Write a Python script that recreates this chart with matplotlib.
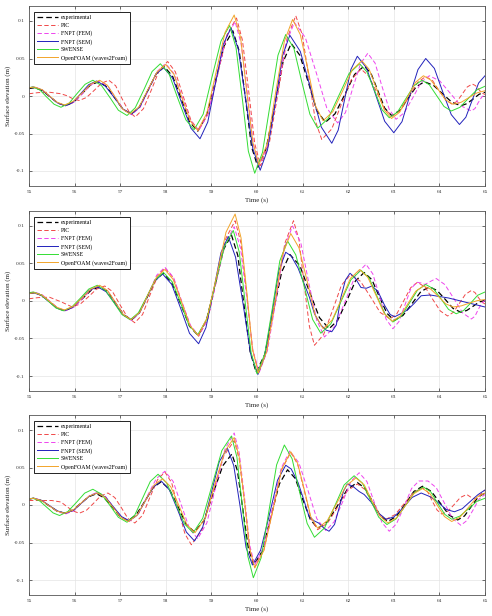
import matplotlib
matplotlib.use("Agg")
import matplotlib.pyplot as plt

plt.rcParams['font.family'] = ['Liberation Serif', 'DejaVu Serif']
plt.rcParams['axes.unicode_minus'] = False

series_names = ['experimental', 'PIC', 'FNPT (FEM)', 'FNPT (SEM)', 'SWENSE', 'OpenFOAM (waves2Foam)']
x_ticks = [55, 56, 57, 58, 59, 60, 61, 62, 63, 64, 65]
y_ticks = [-0.1, -0.05, 0, 0.05, 0.1]
y_tick_labels = ['-0.1', '-0.05', '0', '0.05', '0.1']

# ---------------- Panel 1 ----------------
p1_exp = [(55.0,0.010),(55.12,0.011),(55.29,0.0074),(55.46,-0.001),(55.63,-0.0094),(55.8,-0.013),(55.98,-0.0082),(56.16,0.003),(56.34,0.0142),(56.52,0.019),(56.70,0.0126),(56.88,-0.0025),(57.06,-0.0176),(57.24,-0.024),(57.42,-0.0146),(57.61,0.0075),(57.79,0.0296),(57.97,0.039),(58.15,0.0261),(58.34,-0.004),(58.52,-0.0341),(58.7,-0.047),(58.89,-0.0269),(59.09,0.020),(59.28,0.0669),(59.47,0.087),(59.61,0.0597),(59.75,-0.004),(59.88,-0.0677),(60.02,-0.095),(60.20,-0.0703),(60.39,-0.0125),(60.57,0.0453),(60.75,0.070),(60.94,0.0543),(61.13,0.0175),(61.31,-0.0193),(61.5,-0.035),(61.71,-0.0238),(61.93,0.0025),(62.14,0.0288),(62.35,0.040),(62.5,0.0301),(62.65,0.007),(62.8,-0.0161),(62.95,-0.026),(63.13,-0.0193),(63.31,-0.0035),(63.49,0.0123),(63.67,0.019),(63.87,0.0142),(64.07,0.003),(64.27,-0.0082),(64.47,-0.013),(64.6,-0.0103),(64.74,-0.004),(64.87,0.0023),(65.0,0.005)]
p1_pic = [(55.0,0.003),(55.2,0.0045),(55.45,0.005),(55.7,0.003),(55.85,0.0),(55.97,-0.004),(56.1,-0.006),(56.26,-0.0020),(56.43,0.0075),(56.59,0.0170),(56.75,0.021),(56.90,0.0137),(57.04,-0.0035),(57.19,-0.0207),(57.33,-0.028),(57.51,-0.0169),(57.69,0.009),(57.86,0.0349),(58.04,0.046),(58.21,0.0322),(58.38,0.0),(58.55,-0.0322),(58.72,-0.046),(58.93,-0.0235),(59.14,0.029),(59.34,0.0815),(59.55,0.104),(59.68,0.0745),(59.82,0.0055),(59.95,-0.0635),(60.08,-0.093),(60.27,-0.0630),(60.47,0.007),(60.66,0.0770),(60.85,0.107),(60.99,0.0823),(61.14,0.0245),(61.28,-0.0333),(61.42,-0.058),(61.64,-0.0439),(61.85,-0.011),(62.07,0.0219),(62.28,0.036),(62.45,0.0266),(62.63,0.0045),(62.80,-0.0176),(62.97,-0.027),(63.15,-0.0191),(63.34,-0.0005),(63.52,0.0181),(63.7,0.026),(63.85,0.0205),(63.99,0.0075),(64.14,-0.0055),(64.28,-0.011),(64.39,-0.0070),(64.5,0.0025),(64.61,0.0120),(64.72,0.016),(64.79,0.0139),(64.86,0.009),(64.93,0.0041),(65.0,0.002)]
p1_fem = [(55.0,0.011),(55.12,0.012),(55.29,0.0083),(55.46,-0.0005),(55.63,-0.0093),(55.8,-0.013),(55.99,-0.0081),(56.18,0.0035),(56.36,0.0151),(56.55,0.020),(56.73,0.0133),(56.9,-0.0025),(57.08,-0.0183),(57.25,-0.025),(57.44,-0.0148),(57.63,0.009),(57.81,0.0328),(58.0,0.043),(58.18,0.0297),(58.36,-0.0015),(58.54,-0.0327),(58.72,-0.046),(58.92,-0.0243),(59.12,0.0265),(59.32,0.0773),(59.52,0.099),(59.65,0.0702),(59.79,0.003),(59.92,-0.0642),(60.05,-0.093),(60.24,-0.0644),(60.44,0.0025),(60.63,0.0694),(60.82,0.098),(61.06,0.0779),(61.3,0.031),(61.53,-0.0159),(61.77,-0.036),(61.94,-0.0221),(62.1,0.0105),(62.27,0.0431),(62.43,0.057),(62.59,0.0438),(62.74,0.013),(62.9,-0.0178),(63.05,-0.031),(63.23,-0.0223),(63.42,-0.002),(63.6,0.0183),(63.78,0.027),(64.01,0.0200),(64.24,0.0035),(64.47,-0.0130),(64.7,-0.020),(64.78,-0.0167),(64.85,-0.009),(64.93,-0.0013),(65.0,0.002)]
p1_sem = [(55.0,0.011),(55.1,0.012),(55.28,0.0083),(55.45,-0.0005),(55.63,-0.0093),(55.8,-0.013),(55.97,-0.0081),(56.14,0.0035),(56.31,0.0151),(56.48,0.020),(56.67,0.0134),(56.87,-0.002),(57.06,-0.0174),(57.25,-0.024),(57.43,-0.0147),(57.60,0.007),(57.78,0.0287),(57.95,0.038),(58.15,0.0238),(58.35,-0.0095),(58.55,-0.0428),(58.75,-0.057),(58.92,-0.0348),(59.09,0.017),(59.26,0.0688),(59.43,0.091),(59.59,0.0625),(59.75,-0.004),(59.91,-0.0705),(60.07,-0.099),(60.23,-0.0720),(60.40,-0.009),(60.56,0.0540),(60.72,0.081),(60.95,0.0594),(61.18,0.009),(61.41,-0.0414),(61.64,-0.063),(61.78,-0.0456),(61.92,-0.005),(62.06,0.0356),(62.2,0.053),(62.4,0.0377),(62.6,0.002),(62.8,-0.0337),(63.0,-0.049),(63.18,-0.0342),(63.35,0.0005),(63.53,0.0352),(63.7,0.050),(63.89,0.0368),(64.07,0.006),(64.26,-0.0248),(64.44,-0.038),(64.58,-0.0283),(64.72,-0.0055),(64.86,0.0173),(65.0,0.027)]
p1_swense = [(55.0,0.011),(55.08,0.012),(55.24,0.0080),(55.39,-0.0015),(55.55,-0.0110),(55.7,-0.015),(55.88,-0.0096),(56.05,0.003),(56.23,0.0156),(56.4,0.021),(56.59,0.0140),(56.78,-0.0025),(56.96,-0.0190),(57.15,-0.026),(57.33,-0.0157),(57.52,0.0085),(57.70,0.0327),(57.88,0.043),(58.07,0.0298),(58.25,-0.001),(58.44,-0.0318),(58.62,-0.045),(58.82,-0.0242),(59.01,0.0245),(59.21,0.0732),(59.4,0.094),(59.54,0.0645),(59.68,-0.0045),(59.81,-0.0735),(59.95,-0.103),(60.12,-0.0753),(60.29,-0.0105),(60.46,0.0543),(60.63,0.082),(60.81,0.0633),(60.98,0.0195),(61.16,-0.0243),(61.33,-0.043),(61.56,-0.0301),(61.79,0.0),(62.02,0.0301),(62.25,0.043),(62.41,0.0322),(62.58,0.007),(62.74,-0.0182),(62.9,-0.029),(63.08,-0.0215),(63.26,-0.004),(63.44,0.0135),(63.62,0.021),(63.78,0.0149),(63.94,0.0005),(64.10,-0.0139),(64.26,-0.020),(64.45,-0.0151),(64.63,-0.0035),(64.82,0.0081),(65.0,0.013)]
p1_of = [(55.0,0.011),(55.12,0.012),(55.29,0.0084),(55.45,0.0),(55.62,-0.0084),(55.78,-0.012),(55.97,-0.0071),(56.17,0.0045),(56.36,0.0161),(56.55,0.021),(56.72,0.0143),(56.89,-0.0015),(57.05,-0.0173),(57.22,-0.024),(57.42,-0.0141),(57.61,0.009),(57.81,0.0321),(58.0,0.042),(58.18,0.0288),(58.35,-0.002),(58.53,-0.0328),(58.7,-0.046),(58.9,-0.0229),(59.1,0.031),(59.3,0.0849),(59.5,0.108),(59.64,0.0780),(59.77,0.008),(59.91,-0.0620),(60.04,-0.092),(60.23,-0.0629),(60.41,0.005),(60.6,0.0729),(60.78,0.102),(60.95,0.0818),(61.12,0.0345),(61.28,-0.0128),(61.45,-0.033),(61.66,-0.0210),(61.88,0.007),(62.09,0.0350),(62.3,0.047),(62.46,0.0355),(62.63,0.0085),(62.79,-0.0185),(62.95,-0.030),(63.13,-0.0215),(63.3,-0.0015),(63.48,0.0185),(63.65,0.027),(63.81,0.0213),(63.98,0.008),(64.14,-0.0053),(64.3,-0.011),(64.48,-0.0083),(64.65,-0.002),(64.83,0.0043),(65.0,0.007)]

# ---------------- Panel 2 ----------------
p2_exp = [(55.0,0.010),(55.12,0.011),(55.29,0.0074),(55.45,-0.001),(55.62,-0.0094),(55.78,-0.013),(55.97,-0.0082),(56.17,0.003),(56.36,0.0142),(56.55,0.019),(56.73,0.0124),(56.9,-0.003),(57.08,-0.0184),(57.25,-0.025),(57.42,-0.0157),(57.6,0.006),(57.77,0.0277),(57.94,0.037),(58.13,0.0246),(58.33,-0.0045),(58.52,-0.0336),(58.71,-0.046),(58.89,-0.0259),(59.08,0.021),(59.26,0.0679),(59.44,0.088),(59.58,0.0606),(59.71,-0.0035),(59.85,-0.0676),(59.98,-0.095),(60.17,-0.0715),(60.35,-0.0165),(60.54,0.0385),(60.72,0.062),(60.94,0.0472),(61.15,0.0125),(61.37,-0.0222),(61.58,-0.037),(61.77,-0.0258),(61.97,0.0005),(62.16,0.0268),(62.35,0.038),(62.52,0.0284),(62.68,0.006),(62.85,-0.0164),(63.01,-0.026),(63.2,-0.0193),(63.4,-0.0035),(63.59,0.0123),(63.78,0.019),(63.95,0.0139),(64.13,0.002),(64.3,-0.0099),(64.47,-0.015),(64.6,-0.0126),(64.74,-0.007),(64.87,-0.0014),(65.0,0.001)]
p2_pic = [(55.0,0.003),(55.2,0.0045),(55.45,0.005),(55.7,-0.001),(55.95,-0.008),(56.13,-0.0038),(56.31,0.006),(56.48,0.0158),(56.66,0.020),(56.83,0.0127),(56.99,-0.0045),(57.16,-0.0217),(57.32,-0.029),(57.49,-0.0181),(57.65,0.0075),(57.82,0.0331),(57.98,0.044),(58.17,0.0304),(58.35,-0.0015),(58.54,-0.0334),(58.72,-0.047),(58.92,-0.0239),(59.12,0.030),(59.32,0.0839),(59.52,0.107),(59.65,0.0769),(59.78,0.0065),(59.9,-0.0639),(60.03,-0.094),(60.22,-0.0639),(60.42,0.0065),(60.61,0.0769),(60.8,0.107),(60.92,0.0821),(61.03,0.024),(61.15,-0.0341),(61.26,-0.059),(61.46,-0.0449),(61.66,-0.012),(61.85,0.0209),(62.05,0.035),(62.27,0.0262),(62.49,0.0055),(62.7,-0.0152),(62.92,-0.024),(63.07,-0.0167),(63.22,0.0005),(63.37,0.0177),(63.52,0.025),(63.69,0.0183),(63.85,0.0025),(64.02,-0.0133),(64.18,-0.020),(64.31,-0.0149),(64.44,-0.003),(64.57,0.0089),(64.7,0.014),(64.78,0.0113),(64.85,0.005),(64.93,-0.0013),(65.0,-0.004)]
p2_fem = [(55.0,0.011),(55.12,0.012),(55.29,0.0083),(55.46,-0.0005),(55.63,-0.0093),(55.8,-0.013),(55.99,-0.0081),(56.18,0.0035),(56.36,0.0151),(56.55,0.020),(56.73,0.0131),(56.9,-0.003),(57.08,-0.0191),(57.25,-0.026),(57.43,-0.0154),(57.62,0.0095),(57.8,0.0344),(57.98,0.045),(58.17,0.0314),(58.35,-0.0005),(58.54,-0.0324),(58.72,-0.046),(58.92,-0.0243),(59.11,0.0265),(59.31,0.0773),(59.5,0.099),(59.64,0.0699),(59.78,0.002),(59.91,-0.0659),(60.05,-0.095),(60.23,-0.0658),(60.42,0.0025),(60.6,0.0708),(60.78,0.100),(60.96,0.0778),(61.13,0.026),(61.31,-0.0258),(61.48,-0.048),(61.71,-0.0335),(61.94,0.0005),(62.16,0.0345),(62.39,0.049),(62.54,0.0361),(62.69,0.006),(62.83,-0.0241),(62.98,-0.037),(63.11,-0.0277),(63.24,-0.006),(63.37,0.0157),(63.5,0.025),(63.6,0.024),(63.68,0.022),(63.8,0.026),(63.93,0.030),(64.12,0.0219),(64.32,0.003),(64.51,-0.0159),(64.7,-0.024),(64.78,-0.0203),(64.85,-0.0115),(64.93,-0.0028),(65.0,0.001)]
p2_sem = [(55.0,0.010),(55.1,0.011),(55.27,0.0074),(55.44,-0.001),(55.61,-0.0094),(55.78,-0.013),(55.96,-0.0082),(56.14,0.003),(56.32,0.0142),(56.5,0.019),(56.69,0.0124),(56.88,-0.003),(57.06,-0.0184),(57.25,-0.025),(57.42,-0.0159),(57.59,0.0055),(57.76,0.0269),(57.93,0.036),(58.13,0.0221),(58.33,-0.0105),(58.52,-0.0431),(58.72,-0.057),(58.88,-0.0356),(59.05,0.0145),(59.21,0.0646),(59.37,0.086),(59.53,0.0584),(59.7,-0.006),(59.86,-0.0704),(60.02,-0.098),(60.17,-0.0736),(60.33,-0.0165),(60.48,0.0406),(60.63,0.065),(60.75,0.060),(60.9,0.044),(61.04,0.022),(61.15,0.005),(61.26,-0.017),(61.4,-0.032),(61.52,-0.039),(61.64,-0.041),(61.74,-0.032),(61.84,0.005),(61.94,0.028),(62.04,0.037),(62.15,0.031),(62.28,0.018),(62.4,0.017),(62.52,0.020),(62.65,0.013),(62.8,-0.006),(62.92,-0.018),(63.02,-0.021),(63.15,-0.017),(63.3,-0.012),(63.45,-0.003),(63.6,0.007),(63.8,0.008),(64.0,0.006),(64.2,0.004),(64.4,0.001),(64.6,-0.002),(64.8,-0.005),(65.0,-0.008)]
p2_swense = [(55.0,0.011),(55.1,0.012),(55.26,0.0083),(55.43,-0.0005),(55.59,-0.0093),(55.75,-0.013),(55.94,-0.0079),(56.13,0.004),(56.31,0.0159),(56.5,0.021),(56.68,0.0141),(56.86,-0.002),(57.04,-0.0181),(57.22,-0.025),(57.4,-0.0156),(57.59,0.0065),(57.77,0.0286),(57.95,0.038),(58.14,0.0256),(58.33,-0.0035),(58.51,-0.0326),(58.7,-0.045),(58.9,-0.0242),(59.09,0.0245),(59.29,0.0732),(59.48,0.094),(59.61,0.0654),(59.74,-0.0015),(59.87,-0.0684),(60.0,-0.097),(60.17,-0.0705),(60.34,-0.0085),(60.5,0.0535),(60.67,0.080),(60.85,0.0616),(61.04,0.0185),(61.22,-0.0246),(61.4,-0.043),(61.62,-0.0304),(61.84,-0.001),(62.06,0.0284),(62.28,0.041),(62.46,0.0307),(62.63,0.0065),(62.81,-0.0177),(62.98,-0.028),(63.16,-0.0205),(63.34,-0.003),(63.52,0.0145),(63.7,0.022),(63.87,0.0162),(64.04,0.0025),(64.2,-0.0112),(64.37,-0.017),(64.53,-0.0127),(64.69,-0.0025),(64.84,0.0077),(65.0,0.012)]
p2_of = [(55.0,0.010),(55.12,0.011),(55.29,0.0076),(55.45,-0.0005),(55.62,-0.0086),(55.78,-0.012),(55.97,-0.0071),(56.17,0.0045),(56.36,0.0161),(56.55,0.021),(56.72,0.0141),(56.9,-0.002),(57.07,-0.0181),(57.24,-0.025),(57.43,-0.0150),(57.61,0.0085),(57.8,0.0320),(57.98,0.042),(58.16,0.0288),(58.35,-0.002),(58.53,-0.0328),(58.71,-0.046),(58.91,-0.0217),(59.12,0.035),(59.32,0.0917),(59.52,0.116),(59.65,0.0842),(59.78,0.010),(59.9,-0.0642),(60.03,-0.096),(60.21,-0.0681),(60.39,-0.003),(60.56,0.0621),(60.74,0.090),(60.92,0.0710),(61.1,0.0265),(61.27,-0.0180),(61.45,-0.037),(61.65,-0.0252),(61.85,0.0025),(62.05,0.0302),(62.25,0.042),(62.43,0.0317),(62.61,0.0075),(62.79,-0.0167),(62.97,-0.027),(63.14,-0.0200),(63.31,-0.0035),(63.48,0.0130),(63.65,0.020),(63.81,0.0158),(63.98,0.006),(64.14,-0.0038),(64.3,-0.008),(64.48,-0.0065),(64.65,-0.003),(64.83,0.0005),(65.0,0.002)]

# ---------------- Panel 3 ----------------
p3_exp = [(55.0,0.008),(55.1,0.009),(55.27,0.0060),(55.44,-0.001),(55.61,-0.0080),(55.78,-0.011),(55.96,-0.0071),(56.13,0.002),(56.31,0.0111),(56.48,0.015),(56.65,0.0096),(56.83,-0.003),(57.0,-0.0156),(57.17,-0.021),(57.35,-0.0132),(57.54,0.005),(57.72,0.0232),(57.9,0.031),(58.08,0.0210),(58.27,-0.0025),(58.45,-0.0260),(58.63,-0.036),(58.84,-0.0204),(59.04,0.016),(59.25,0.0524),(59.45,0.068),(59.57,0.0458),(59.69,-0.006),(59.81,-0.0578),(59.93,-0.080),(60.12,-0.0610),(60.3,-0.0165),(60.49,0.0280),(60.67,0.047),(60.84,0.0353),(61.0,0.008),(61.17,-0.0193),(61.33,-0.031),(61.55,-0.0219),(61.77,-0.0005),(61.98,0.0209),(62.2,0.030),(62.37,0.0222),(62.54,0.004),(62.7,-0.0142),(62.87,-0.022),(63.06,-0.0150),(63.25,0.0015),(63.44,0.0180),(63.63,0.025),(63.82,0.0183),(64.02,0.0025),(64.21,-0.0133),(64.4,-0.020),(64.55,-0.0146),(64.7,-0.002),(64.85,0.0106),(65.0,0.016)]
p3_pic = [(55.0,0.006),(55.25,0.006),(55.5,0.006),(55.7,0.004),(55.85,-0.003),(55.97,-0.008),(56.1,-0.011),(56.26,-0.0070),(56.42,0.0025),(56.57,0.0120),(56.73,0.016),(56.88,0.0100),(57.03,-0.004),(57.17,-0.0180),(57.32,-0.024),(57.49,-0.0138),(57.65,0.010),(57.82,0.0338),(57.98,0.044),(58.13,0.0295),(58.27,-0.0045),(58.42,-0.0385),(58.56,-0.053),(58.8,-0.0322),(59.03,0.0165),(59.27,0.0652),(59.5,0.086),(59.61,0.0607),(59.73,0.0015),(59.84,-0.0577),(59.95,-0.083),(60.15,-0.0601),(60.35,-0.0065),(60.54,0.0471),(60.74,0.070),(60.89,0.0546),(61.04,0.0185),(61.18,-0.0176),(61.33,-0.033),(61.55,-0.0239),(61.77,-0.0025),(61.98,0.0189),(62.2,0.028),(62.36,0.0210),(62.52,0.0045),(62.67,-0.0120),(62.83,-0.019),(63.03,-0.0127),(63.23,0.002),(63.43,0.0167),(63.63,0.023),(63.74,0.0178),(63.84,0.0055),(63.95,-0.0068),(64.05,-0.012),(64.19,-0.0081),(64.33,0.001),(64.46,0.0101),(64.6,0.014),(64.7,0.010),(64.78,0.008),(64.9,0.014),(65.0,0.020)]
p3_fem = [(55.0,0.008),(55.12,0.009),(55.29,0.0059),(55.46,-0.0015),(55.63,-0.0089),(55.8,-0.012),(55.98,-0.0077),(56.15,0.0025),(56.33,0.0127),(56.5,0.017),(56.68,0.0112),(56.85,-0.0025),(57.03,-0.0162),(57.2,-0.022),(57.4,-0.0120),(57.59,0.0115),(57.79,0.0350),(57.98,0.045),(58.16,0.0315),(58.34,0.0),(58.52,-0.0315),(58.7,-0.045),(58.9,-0.0239),(59.1,0.0255),(59.3,0.0749),(59.5,0.096),(59.61,0.0696),(59.73,0.008),(59.84,-0.0536),(59.95,-0.080),(60.14,-0.0572),(60.34,-0.004),(60.53,0.0492),(60.72,0.072),(60.92,0.0561),(61.12,0.019),(61.31,-0.0181),(61.51,-0.034),(61.69,-0.0225),(61.88,0.0045),(62.06,0.0315),(62.24,0.043),(62.41,0.0313),(62.57,0.004),(62.74,-0.0233),(62.9,-0.035),(63.06,-0.0250),(63.23,-0.0015),(63.39,0.0220),(63.55,0.032),(63.75,0.032),(63.93,0.0232),(64.11,0.0025),(64.29,-0.0182),(64.47,-0.027),(64.6,-0.0209),(64.74,-0.0065),(64.87,0.0079),(65.0,0.014)]
p3_sem = [(55.0,0.008),(55.1,0.009),(55.28,0.0060),(55.45,-0.001),(55.63,-0.0080),(55.8,-0.011),(55.98,-0.0070),(56.15,0.0025),(56.33,0.0120),(56.5,0.016),(56.68,0.0105),(56.85,-0.0025),(57.03,-0.0155),(57.2,-0.021),(57.38,-0.0131),(57.55,0.0055),(57.73,0.0241),(57.9,0.032),(58.08,0.0200),(58.27,-0.008),(58.45,-0.0360),(58.63,-0.048),(58.81,-0.0294),(58.99,0.014),(59.17,0.0574),(59.35,0.076),(59.49,0.0526),(59.63,-0.002),(59.76,-0.0566),(59.9,-0.080),(60.08,-0.0601),(60.27,-0.0135),(60.45,0.0331),(60.63,0.053),(60.75,0.048),(60.9,0.030),(61.02,0.008),(61.14,-0.015),(61.25,-0.021),(61.35,-0.024),(61.47,-0.031),(61.58,-0.035),(61.7,-0.026),(61.8,-0.004),(61.9,0.019),(61.98,0.028),(62.1,0.025),(62.24,0.018),(62.35,0.014),(62.5,0.004),(62.65,-0.010),(62.83,-0.019),(63.0,-0.016),(63.2,-0.004),(63.4,0.010),(63.6,0.016),(63.8,0.011),(64.0,0.002),(64.15,-0.006),(64.33,-0.009),(64.5,-0.005),(64.7,0.006),(64.85,0.014),(65.0,0.020)]
p3_swense = [(55.0,0.008),(55.08,0.009),(55.23,0.0056),(55.38,-0.0025),(55.53,-0.0106),(55.67,-0.014),(55.85,-0.0088),(56.04,0.0035),(56.22,0.0158),(56.4,0.021),(56.59,0.0144),(56.78,-0.001),(56.96,-0.0164),(57.15,-0.023),(57.32,-0.0134),(57.49,0.009),(57.66,0.0314),(57.83,0.041),(58.02,0.0293),(58.22,0.002),(58.41,-0.0253),(58.6,-0.037),(58.81,-0.0177),(59.02,0.0275),(59.23,0.0727),(59.44,0.092),(59.56,0.0637),(59.68,-0.0025),(59.8,-0.0687),(59.92,-0.097),(60.09,-0.0705),(60.26,-0.0085),(60.43,0.0535),(60.6,0.080),(60.77,0.0616),(60.93,0.0185),(61.1,-0.0246),(61.26,-0.043),(61.48,-0.0307),(61.7,-0.002),(61.91,0.0267),(62.13,0.039),(62.31,0.0293),(62.49,0.0065),(62.67,-0.0163),(62.85,-0.026),(63.05,-0.0185),(63.25,-0.001),(63.45,0.0165),(63.65,0.024),(63.81,0.0176),(63.96,0.0025),(64.12,-0.0126),(64.27,-0.019),(64.45,-0.0148),(64.64,-0.005),(64.82,0.0048),(65.0,0.009)]
p3_of = [(55.0,0.008),(55.1,0.009),(55.27,0.0060),(55.44,-0.001),(55.61,-0.0080),(55.78,-0.011),(55.96,-0.0070),(56.14,0.0025),(56.32,0.0120),(56.5,0.016),(56.67,0.0103),(56.84,-0.003),(57.01,-0.0163),(57.18,-0.022),(57.37,-0.0135),(57.56,0.0065),(57.74,0.0265),(57.93,0.035),(58.11,0.0242),(58.29,-0.001),(58.46,-0.0262),(58.64,-0.037),(58.86,-0.0180),(59.07,0.0265),(59.29,0.0710),(59.5,0.090),(59.61,0.0639),(59.73,0.003),(59.84,-0.0579),(59.95,-0.084),(60.15,-0.0608),(60.35,-0.0065),(60.54,0.0478),(60.74,0.071),(60.89,0.0557),(61.04,0.020),(61.18,-0.0157),(61.33,-0.031),(61.54,-0.0210),(61.75,0.0025),(61.96,0.0260),(62.17,0.036),(62.35,0.0270),(62.52,0.006),(62.7,-0.0150),(62.87,-0.024),(63.06,-0.0171),(63.25,-0.001),(63.44,0.0151),(63.63,0.022),(63.79,0.0154),(63.95,0.0),(64.11,-0.0154),(64.27,-0.022),(64.45,-0.0163),(64.64,-0.003),(64.82,0.0103),(65.0,0.016)]

panels = [
    [p1_exp, p1_pic, p1_fem, p1_sem, p1_swense, p1_of],
    [p2_exp, p2_pic, p2_fem, p2_sem, p2_swense, p2_of],
    [p3_exp, p3_pic, p3_fem, p3_sem, p3_swense, p3_of],
]

styles = [
    dict(color='black', linestyle=(0, (4.5, 2.5)), linewidth=0.9),
    dict(color='#f04848', linestyle=(0, (4.5, 2.5)), linewidth=0.7),
    dict(color='#ee44ee', linestyle=(0, (4.5, 2.5)), linewidth=0.7),
    dict(color='#2222bb', linestyle='-', linewidth=0.7),
    dict(color='#33dd33', linestyle='-', linewidth=0.7),
    dict(color='#f2a52a', linestyle='-', linewidth=0.7),
]

W, H = 492.0, 616.0
fig = plt.figure(figsize=(W / 100, H / 100), dpi=100)
axes_px = [(29, 6, 456, 180), (29, 211, 456, 180), (29, 415, 456, 180)]

for (x0, y0, w, h), series in zip(axes_px, panels):
    ax = fig.add_axes([x0 / W, 1 - (y0 + h) / H, w / W, h / H])
    for data, name, st in zip(series, series_names, styles):
        t = [p[0] for p in data]
        v = [p[1] for p in data]
        ax.plot(t, v, label=name, **st)
    ax.set_xlim(55, 65)
    ax.set_ylim(-0.12, 0.12)
    ax.set_xticks(x_ticks)
    ax.set_xticklabels([str(x) for x in x_ticks])
    ax.set_yticks(y_ticks)
    ax.set_yticklabels(y_tick_labels)
    ax.grid(True, color='#e4e4e4', linewidth=0.5)
    ax.set_axisbelow(True)
    ax.tick_params(direction='in', length=2.5, width=0.5, labelsize=3.9,
                   colors='#333333', top=True, right=True, pad=3)
    for sp in ax.spines.values():
        sp.set_color('#555555')
        sp.set_linewidth(0.6)
    ax.set_xlabel('Time (s)', fontsize=5, labelpad=2, color='#222222')
    ax.set_ylabel('Surface elevation (m)', fontsize=5, labelpad=2, color='#222222')
    leg = ax.legend(loc='upper left', bbox_to_anchor=(5 / w, 1 - 6 / h), borderaxespad=0,
                    fontsize=4.2, handlelength=3.6, handletextpad=0.5, labelspacing=0.45,
                    frameon=True, fancybox=False, borderpad=0.5)
    leg.get_frame().set_edgecolor('black')
    leg.get_frame().set_linewidth(0.6)
    leg.get_frame().set_alpha(1)

fig.savefig('out.png', dpi=100)
